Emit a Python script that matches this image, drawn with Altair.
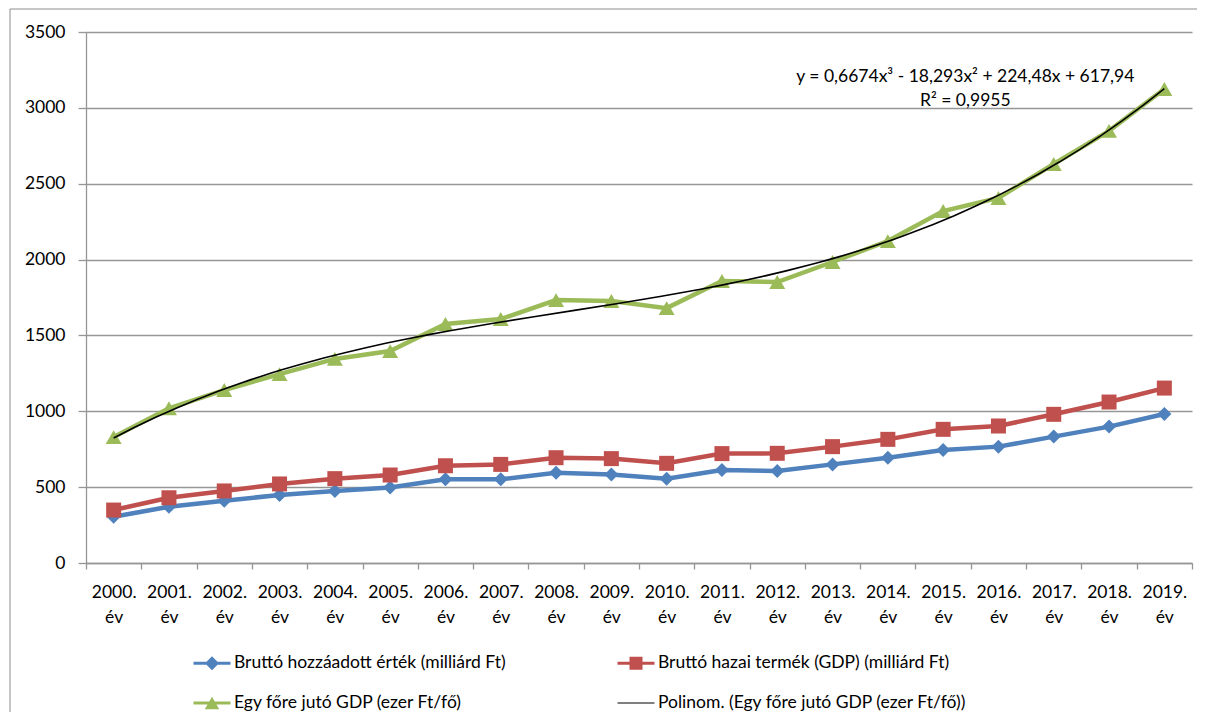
import altair as alt
import pandas as pd

# ---- data ----
x_labels = ["2000. év", "2001. év", "2002. év", "2003. év", "2004. év",
            "2005. év", "2006. év", "2007. év", "2008. év", "2009. év",
            "2010. év", "2011. év", "2012. év", "2013. év", "2014. év",
            "2015. év", "2016. év", "2017. év", "2018. év", "2019. év"]

series_names = ["Bruttó hozzáadott érték (milliárd Ft)",
                "Bruttó hazai termék  (GDP) (milliárd Ft)",
                "Egy főre jutó GDP (ezer Ft/fő)"]
trend_name = "Polinom. (Egy főre jutó GDP (ezer Ft/fő))"

bha = [305, 371, 411, 448, 475, 497, 552, 552, 595, 584,
       556, 613, 606, 650, 694, 745, 767, 833, 899, 982]
gdp = [349, 430, 475, 521, 556, 580, 641, 650, 694, 688,
       657, 721, 723, 767, 815, 881, 903, 980, 1061, 1153]
gdp_per_capita = [830, 1020, 1140, 1245, 1345, 1397, 1575, 1608, 1733, 1727,
                  1680, 1859, 1852, 1984, 2122, 2320, 2406, 2630, 2848, 3124]

y_ticks = [0, 500, 1000, 1500, 2000, 2500, 3000, 3500]

equation_lines = ["y = 0,6674x³ - 18,293x² + 224,48x + 617,94", "R² = 0,9955"]
equation_pos_x = [16.4, 16.4]
equation_pos_y = [3203, 3045]

# ---- styles ----
colors = ["#4F81BD", "#C0504D", "#9BBB59"]
trend_color = "#000000"
shapes = ["diamond", "square", "triangle-up"]
sizes = [196, 225, 256]
legend_paths = [
    "M-1.85,-0.15H1.85V0.15H-1.85Z M0,-0.7L0.7,0L0,0.7L-0.7,0Z",
    "M-1.85,-0.15H1.85V0.15H-1.85Z M-0.65,-0.65H0.65V0.65H-0.65Z",
    "M-1.85,-0.15H1.85V0.15H-1.85Z M0,-0.62L0.72,0.62L-0.72,0.62Z",
    "M-1.85,-0.06H1.85V0.06H-1.85Z",
]
GRID = "#969696"
FONT = "Lato"
FS = 17.5
W, H = 1106, 531

rows = []
for name, vals in zip(series_names, [bha, gdp, gdp_per_capita]):
    for i, (lab, v) in enumerate(zip(x_labels, vals)):
        rows.append({"series": name, "label": lab, "idx": i + 1, "value": v})
df = pd.DataFrame(rows)

x_enc = alt.X("label:N", sort=x_labels, bandPosition=0.5,
              scale=alt.Scale(type="band", domain=x_labels, paddingInner=0, paddingOuter=0),
              axis=alt.Axis(title=None, labelAngle=0, labelExpr="split(datum.label, ' ')",
                            tickBand="extent", tickSize=6, labelPadding=14,
                            labelLineHeight=25, grid=False, labelFontSize=FS))
y_enc = alt.Y("value:Q", scale=alt.Scale(domain=[0, 3500], nice=False),
              axis=alt.Axis(title=None, values=y_ticks, tickSize=8, labelPadding=13,
                            grid=True, labelFontSize=FS, format="d"))
xq_enc = alt.X("idx:Q", scale=alt.Scale(domain=[0.5, 20.5], nice=False, zero=False), axis=None)

base = alt.Chart(df)
main_layers = []
for name, col, shp, sz in zip(series_names, colors, shapes, sizes):
    sub = base.transform_filter(alt.datum.series == name)
    main_layers.append(sub.mark_line(color=col, strokeWidth=4.5).encode(x=x_enc, y=y_enc))
    main_layers.append(sub.mark_point(shape=shp, size=sz, filled=True, color=col, opacity=1)
                       .encode(x=x_enc, y=y_enc))
main = alt.layer(*main_layers)

trend = (alt.Chart(df)
         .transform_filter(alt.datum.series == series_names[2])
         .transform_regression("idx", "value", method="poly", order=3)
         .mark_line(color=trend_color, strokeWidth=1.6)
         .encode(x=xq_enc, y=y_enc))

eq_df = pd.DataFrame({"idx": equation_pos_x, "value": equation_pos_y, "txt": equation_lines})
eq = (alt.Chart(eq_df).mark_text(font=FONT, fontSize=FS, color="black", align="center",
                                  baseline="middle")
      .encode(x=xq_enc, y=y_enc, text="txt:N"))
trend_group = alt.layer(trend, eq)

# legend: column-major order in a 2-column legend
legend_order = [series_names[0], series_names[2], series_names[1], trend_name]
legend_colors = [colors[0], colors[2], colors[1], trend_color]
legend_shapes = [legend_paths[0], legend_paths[2], legend_paths[1], legend_paths[3]]
leg = alt.Legend(title=None, orient="none", legendX=116, legendY=621, columns=2,
                 symbolSize=400, symbolStrokeWidth=0, labelOffset=12, rowPadding=21,
                 columnPadding=111, padding=0, labelFont=FONT, labelFontSize=FS,
                 labelColor="black", labelLimit=600, symbolOpacity=1)
leg_df = pd.DataFrame({"series": legend_order})
legend_layer = (alt.Chart(leg_df).transform_filter("false")
                .mark_point(filled=True, opacity=1)
                .encode(fill=alt.Fill("series:N", sort=legend_order,
                                      scale=alt.Scale(domain=legend_order, range=legend_colors),
                                      legend=leg),
                        shape=alt.Shape("series:N", sort=legend_order,
                                        scale=alt.Scale(domain=legend_order, range=legend_shapes),
                                        legend=leg)))

# chart-area frame (top and left edges visible in the reference)
frame_df = pd.DataFrame({"a": [0]})
frame_top = (alt.Chart(frame_df).mark_rule(color="#8c8c8c", strokeWidth=1)
             .encode(x=alt.value(-76), x2=alt.value(W + 60), y=alt.value(-23)))
frame_left = (alt.Chart(frame_df).mark_rule(color="#8c8c8c", strokeWidth=1)
              .encode(x=alt.value(-76), y=alt.value(-23), y2=alt.value(H + 200)))

chart = (alt.layer(frame_top, frame_left, main, trend_group, legend_layer)
         .resolve_scale(x="independent")
         .properties(width=W, height=H, autosize="none",
                     padding={"left": 78, "top": 24, "right": 5, "bottom": 149})
         .configure_view(stroke=None)
         .configure_axis(labelFont=FONT, labelColor="black", domainColor=GRID,
                         tickColor=GRID, gridColor=GRID, gridWidth=1.3, domainWidth=1.3,
                         tickWidth=1.3))

chart.save("out.html", embed_options={"renderer": "svg", "actions": False})
